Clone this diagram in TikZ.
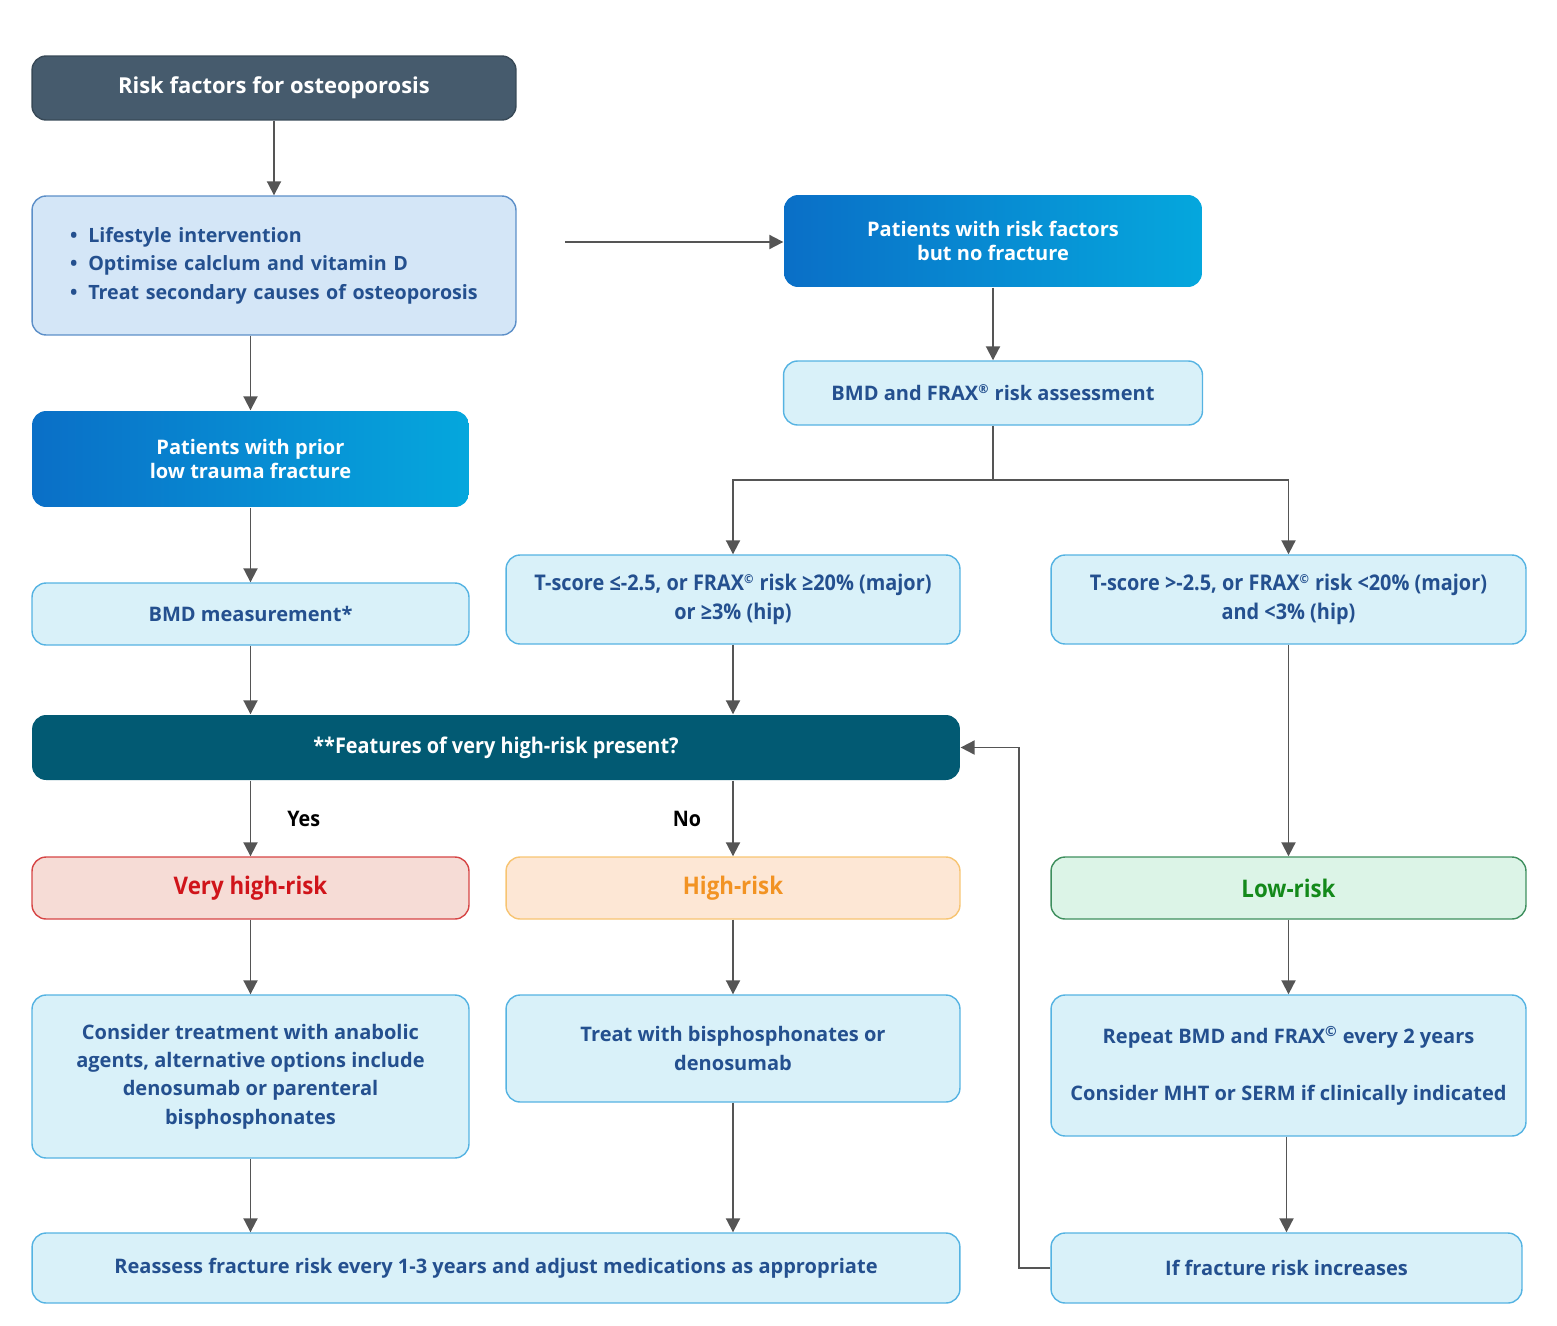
\documentclass[tikz,border=0pt]{standalone}
\usepackage{fontspec}
\setmainfont{Open Sans}
\newfontfamily\condfont[FakeStretch=0.92]{Open Sans}
\usepackage{tikz}
\usetikzlibrary{arrows.meta}
\usetikzlibrary{positioning}
\definecolor{colorHead}{HTML}{465B6D}
\definecolor{colorText}{HTML}{24508F}
\definecolor{colorBox}{HTML}{D9F1F9}
\definecolor{colorBoxLine}{HTML}{55B3E2}
\definecolor{colorList}{HTML}{D4E6F7}
\definecolor{colorListLine}{HTML}{5C8FC8}
\definecolor{colorGradL}{HTML}{0A6FC7}
\definecolor{colorGradR}{HTML}{05A7DD}
\definecolor{colorBar}{HTML}{025A73}
\definecolor{colorArr}{HTML}{555555}
\definecolor{colorVHR}{HTML}{F6DCD6}
\definecolor{colorVHRLine}{HTML}{D64545}
\definecolor{colorVHRText}{HTML}{D0141A}
\definecolor{colorHR}{HTML}{FDE7D5}
\definecolor{colorHRLine}{HTML}{F7C472}
\definecolor{colorHRText}{HTML}{F29323}
\definecolor{colorLR}{HTML}{DCF4E7}
\definecolor{colorLRLine}{HTML}{3E8F5E}
\definecolor{colorLRText}{HTML}{13891A}
\newcommand{\frx}[1]{FRAX\textsuperscript{\scriptsize #1}}
\tikzset{
   every path/.style={>=Triangle},
   arr/.style={-{Triangle[width=8pt,length=8pt]},color=colorArr,line width=1.1pt},
   lnk/.style={-,color=colorArr,line width=1.1pt},
   base/.style={rectangle,rounded corners=8pt,align=center,inner sep=0pt,line width=0.8pt},
   box/.style={base,draw=colorBoxLine,fill=colorBox,text=colorText},
   list/.style={base,draw=colorListLine,fill=colorList,text=colorText,align=left,
     font=\fontsize{11.2}{16.2}\selectfont\bfseries},
   head/.style={base,fill=colorHead,draw=colorHead!80!black,text=white,
     font=\fontsize{12.5}{16.2}\selectfont\bfseries},
   grad/.style={base,left color=colorGradL,right color=colorGradR,text=white,
     font=\fontsize{11.4}{13.6}\selectfont\bfseries},
   bar/.style={base,fill=colorBar,text=white,font=\fontsize{12.3}{16.2}\selectfont\condfont\bfseries},
   cond/.style={font=\fontsize{12.3}{16.2}\selectfont\condfont\bfseries},
   vhr/.style={base,draw=colorVHRLine,fill=colorVHR,text=colorVHRText,
     font=\fontsize{13.8}{16.2}\selectfont\condfont\bfseries},
   hr/.style={base,draw=colorHRLine,fill=colorHR,text=colorHRText,
     font=\fontsize{13.8}{16.2}\selectfont\condfont\bfseries},
   lr/.style={base,draw=colorLRLine,fill=colorLR,text=colorLRText,
     font=\fontsize{13.8}{16.2}\selectfont\condfont\bfseries},
   lbl/.style={font=\fontsize{12.2}{13}\selectfont\condfont\bfseries,text=black},
}

\begin{document}
\begin{tikzpicture}[x=0.02cm, y=-0.02cm, every node/.style={font=\fontsize{11.4}{16.2}\selectfont\bfseries}]
  \useasboundingbox (0,0) rectangle (1557,1325);

  \node[head, minimum width=9.68cm, minimum height=1.28cm] (risk) at (274, 88)
    {\raisebox{-2pt}{Risk factors for osteoporosis}};
  \node[list, text width=8.16cm, inner xsep=0.76cm, minimum height=2.78cm] (life) at (274, 265.5)
    {\textbullet\hspace{0.55em}Lifestyle intervention\\
     \textbullet\hspace{0.55em}Optimise calclum and vitamin D\\
     \textbullet\hspace{0.55em}Treat secondary causes of osteoporosis};

  \node[grad, minimum width=8.36cm, minimum height=1.84cm] (pat) at (993, 241)
    {Patients with risk factors\\but no fracture};
  \node[box, minimum width=8.38cm, minimum height=1.28cm] (frax) at (993, 393)
    {BMD and \frx{®} risk assessment};

  \node[grad, minimum width=8.74cm, minimum height=1.92cm] (prior) at (250.5, 459)
    {Patients with prior\\low trauma fracture};
  \node[box, minimum width=8.74cm, minimum height=1.24cm] (meas) at (250.5, 614)
    {BMD measurement*};

  \node[box, cond, minimum width=9.08cm, minimum height=1.78cm] (tle) at (733, 599.5)
    {T-score ≤-2.5, or \frx{©} risk ≥20\% (major)\\or ≥3\% (hip)};
  \node[box, cond, minimum width=9.50cm, minimum height=1.78cm] (tgt) at (1288.5, 599.5)
    {T-score >-2.5, or \frx{©} risk <20\% (major)\\and <3\% (hip)};

  \node[bar, minimum width=18.56cm, minimum height=1.30cm] (feat) at (496, 747.5)
    {\raisebox{-2pt}{**Features of very high-risk present?}};

  \node[vhr, minimum width=8.74cm, minimum height=1.24cm] (vhigh) at (250.5, 888) {Very high-risk};
  \node[hr,  minimum width=9.08cm, minimum height=1.24cm] (high)  at (733, 888)   {High-risk};
  \node[lr,  minimum width=9.50cm, minimum height=1.24cm] (low)   at (1288.5, 888) {Low-risk};

  \node[box, minimum width=8.74cm, minimum height=3.26cm] (cons) at (250.5, 1076.5)
    {Consider treatment with anabolic\\agents, alternative options include\\
     denosumab or parenteral\\bisphosphonates};
  \node[box, minimum width=9.08cm, minimum height=2.14cm] (treat) at (733, 1048.5)
    {Treat with bisphosphonates or\\denosumab};
  \node[box, minimum width=9.50cm, minimum height=2.82cm] (rep) at (1288.5, 1065.5)
    {Repeat BMD and FRAX\textsuperscript{©}\ every 2 years\\[16.2pt]
     Consider MHT or SERM if clinically indicated};

  \node[box, minimum width=18.56cm, minimum height=1.40cm] (reas) at (496, 1268)
    {\raisebox{-2pt}{Reassess fracture risk every 1-3 years and adjust medications as appropriate}};
  \node[box, minimum width=9.42cm, minimum height=1.40cm] (incr) at (1286.5, 1268)
    {If fracture risk increases};

  \coordinate (start) at (565, 242);
  \coordinate (split) at (993, 480);

  \draw[arr] (risk) -- (life);
  \draw[arr] (life.south -| prior.north) -- (prior.north);
  \draw[arr] (start) -- (pat.west |- start);
  \draw[arr] (pat) -- (frax);
  \draw[lnk] (frax.south) -- (split);
  \draw[arr] (split) -| (tle.north);
  \draw[arr] (split) -| (tgt.north);

  \draw[arr] (prior) -- (meas);
  \draw[arr] (meas.south) -- (feat.north -| meas.south);
  \draw[arr] (tle.south) -- (feat.north -| tle.south);
  \draw[arr] (tgt) -- (low);

  \draw[arr] (feat.south -| vhigh.north) -- (vhigh.north)
    node[lbl, midway, right=0.6cm] {Yes};
  \draw[arr] (feat.south -| high.north) -- (high.north)
    node[lbl, midway, left=0.5cm] {No};

  \draw[arr] (vhigh) -- (cons);
  \draw[arr] (high) -- (treat);
  \draw[arr] (low) -- (rep);

  \draw[arr] (cons.south) -- (reas.north -| cons.south);
  \draw[arr] (treat.south) -- (reas.north -| treat.south);
  \draw[arr] (rep.south -| incr.north) -- (incr.north);

  \draw[arr] (incr.west) -- ++(-31, 0) |- (feat.east);
\end{tikzpicture}
\end{document}
